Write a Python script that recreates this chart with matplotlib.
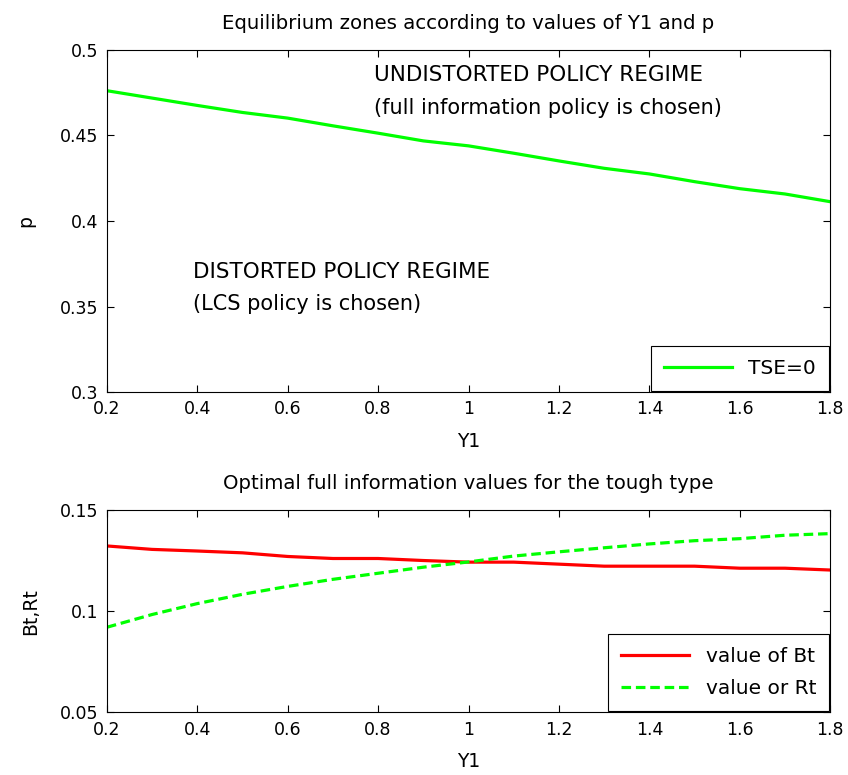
import matplotlib
matplotlib.use("Agg")
import matplotlib.pyplot as plt
import numpy as np

plt.rcParams['font.family'] = ['DejaVu Sans']
plt.rcParams['font.size'] = 12.5

y1 = [0.2, 0.3, 0.4, 0.5, 0.6, 0.7, 0.8, 0.9, 1.0, 1.1, 1.2, 1.3, 1.4, 1.5, 1.6, 1.7, 1.8]
p_tse = [0.476, 0.4717, 0.4674, 0.4633, 0.4600, 0.4555, 0.4512, 0.4467, 0.4438,
         0.4395, 0.4350, 0.4307, 0.4274, 0.4229, 0.4188, 0.4157, 0.4112]
bt = [0.1322, 0.1305, 0.1297, 0.1288, 0.1270, 0.1260, 0.1260, 0.1250, 0.1242,
      0.1242, 0.1232, 0.1222, 0.1222, 0.1222, 0.1212, 0.1212, 0.1203]
rt = [0.0920, 0.0983, 0.1037, 0.1083, 0.1122, 0.1157, 0.1187, 0.1217, 0.1243,
      0.1272, 0.1293, 0.1313, 0.1332, 0.1348, 0.1358, 0.1375, 0.1383]

fig = plt.figure(figsize=(8.48, 7.75), dpi=100)
ax1 = fig.add_axes([0.126, 0.494, 0.853, 0.442])
ax2 = fig.add_axes([0.126, 0.081, 0.853, 0.261])

for ax in (ax1, ax2):
    ax.tick_params(direction='in', top=True, right=True, length=5, width=0.8, pad=6)
    for s in ax.spines.values():
        s.set_linewidth(0.8)
    ax.set_xlim(0.2, 1.8)
    ax.set_xticks(np.arange(0.2, 1.81, 0.2))
    ax.set_xticklabels(['0.2', '0.4', '0.6', '0.8', '1', '1.2', '1.4', '1.6', '1.8'])

ax1.plot(y1, p_tse, color=(0, 1, 0), lw=2.3, label='TSE=0')
ax1.set_ylim(0.3, 0.5)
ax1.set_yticks([0.3, 0.35, 0.4, 0.45, 0.5])
ax1.set_yticklabels(['0.3', '0.35', '0.4', '0.45', '0.5'])
ax1.set_title('Equilibrium zones according to values of Y1 and p', fontsize=14.2, pad=15)
ax1.set_xlabel('Y1', fontsize=13.5, labelpad=10)
ax1.set_ylabel('p', fontsize=13.5, labelpad=18)
ax1.text(0.79, 0.485, 'UNDISTORTED POLICY REGIME', va='center', fontsize=15.5)
ax1.text(0.79, 0.466, '(full information policy is chosen)', va='center', fontsize=15)
ax1.text(0.39, 0.370, 'DISTORTED POLICY REGIME', va='center', fontsize=15.5)
ax1.text(0.39, 0.3515, '(LCS policy is chosen)', va='center', fontsize=15)
leg1 = ax1.legend(loc='lower right', fancybox=False, edgecolor='black', fontsize=14.5,
                  handlelength=3.4, borderaxespad=0.05, framealpha=1, borderpad=0.65,
                  labelspacing=0.65)
leg1.get_frame().set_linewidth(0.8)

ax2.plot(y1, bt, color=(1, 0, 0), lw=2.3, label='value of Bt')
ax2.plot(y1, rt, color=(0, 1, 0), lw=2.3, ls=(0, (3, 1.5)), label='value or Rt')
ax2.set_ylim(0.05, 0.15)
ax2.set_yticks([0.05, 0.1, 0.15])
ax2.set_yticklabels(['0.05', '0.1', '0.15'])
ax2.set_title('Optimal full information values for the tough type', fontsize=14.2, pad=15)
ax2.set_xlabel('Y1', fontsize=13.5, labelpad=10)
ax2.set_ylabel('Bt,Rt', fontsize=13.5, labelpad=14)
leg2 = ax2.legend(loc='lower right', fancybox=False, edgecolor='black', fontsize=14.5,
                  handlelength=3.4, borderaxespad=0.05, framealpha=1, borderpad=0.65,
                  labelspacing=0.65)
leg2.get_frame().set_linewidth(0.8)

fig.savefig('out.png', dpi=100)
